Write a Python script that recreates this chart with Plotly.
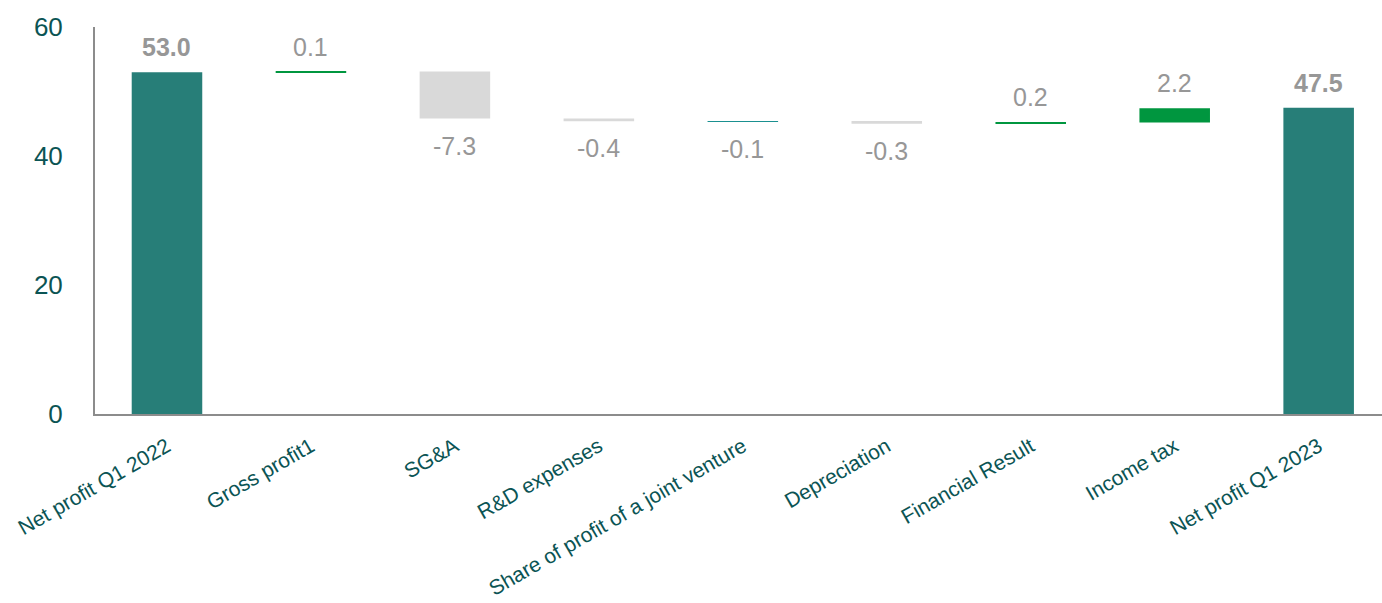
import plotly.graph_objects as go

categories = ["Net profit Q1 2022", "Gross profit1", "SG&A", "R&D expenses",
              "Share of profit of a joint venture", "Depreciation",
              "Financial Result", "Income tax", "Net profit Q1 2023"]
values = [53.0, 0.1, -7.3, -0.4, -0.1, -0.3, 0.2, 2.2, 47.5]
kinds = ["total", "delta", "delta", "delta", "delta", "delta", "delta", "delta", "total"]
labels = ["53.0", "0.1", "-7.3", "-0.4", "-0.1", "-0.3", "0.2", "2.2", "47.5"]
colors = ["#277E78", "#00963F", "#D9D9D9", "#D9D9D9", "#1A9090", "#D9D9D9",
          "#00963F", "#00963F", "#277E78"]

bases, heights = [], []
running = 0.0
for v, k in zip(values, kinds):
    if k == "total":
        bases.append(0.0)
        heights.append(v)
        running = v
    else:
        bases.append(running)
        heights.append(v)
        running += v

fig = go.Figure()
fig.add_trace(go.Bar(
    x=list(range(len(categories))), y=heights, base=bases,
    marker=dict(color=colors, line=dict(width=0)),
    width=0.49, hoverinfo="skip", showlegend=False,
))

annotations = []
for i, (b, h, lab, k) in enumerate(zip(bases, heights, labels, kinds)):
    top = max(b, b + h)
    bot = min(b, b + h)
    if h >= 0:
        y, ya, ys = top, "bottom", 9
    else:
        y, ya, ys = bot, "top", -11
    annotations.append(dict(
        x=i, y=y, xref="x", yref="y", text=f"<b>{lab}</b>" if k == "total" else lab,
        showarrow=False, yanchor=ya, yshift=ys,
        font=dict(family="Liberation Sans, Arial", size=25, color="#979797"),
    ))

fig.update_layout(
    width=1382, height=603,
    margin=dict(l=95, r=0, t=27, b=189),
    paper_bgcolor="white", plot_bgcolor="white",
    bargap=0.5,
    annotations=annotations,
    font=dict(family="Liberation Sans, Arial"),
    xaxis=dict(
        tickmode="array", tickvals=list(range(len(categories))), ticktext=categories,
        range=[-0.5, 8.44], tickangle=-30, showline=True, linecolor="#8C8C8C",
        linewidth=2, showgrid=False, zeroline=False, ticks="",
        tickfont=dict(family="Liberation Sans, Arial", size=21, color="#0B5454"),
        ticklabelstandoff=10,
    ),
    yaxis=dict(
        range=[0, 60], tickvals=[0, 20, 40, 60], showline=True, linecolor="#8C8C8C",
        linewidth=2, showgrid=False, zeroline=False, ticks="",
        tickfont=dict(family="Liberation Sans, Arial", size=26, color="#0B5454"),
        ticklabelstandoff=25,
    ),
)

fig.write_html("out.html")
